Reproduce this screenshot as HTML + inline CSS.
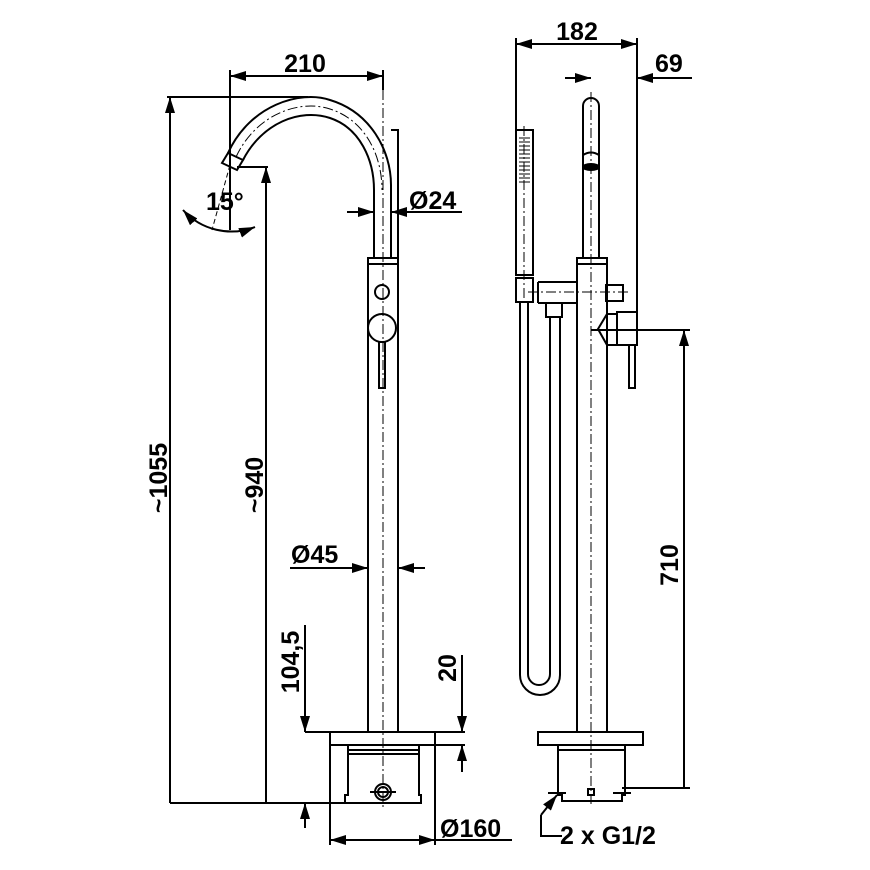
<!DOCTYPE html>
<html><head><style>
html,body{margin:0;padding:0;background:#fff}
svg{display:block}
text{font-family:"Liberation Sans",Arial,sans-serif;font-weight:bold;font-size:25px;fill:#000}
</style></head><body>
<svg width="870" height="870" viewBox="0 0 870 870" xmlns="http://www.w3.org/2000/svg">
<defs>
<marker id="a" viewBox="0 0 16 10" refX="16" refY="5" markerWidth="16" markerHeight="10" markerUnits="userSpaceOnUse" orient="auto-start-reverse">
<path d="M0,0 L16,5 L0,10 Z" fill="#000"/></marker>
</defs>
<g fill="none" stroke="#000" stroke-width="2">
<path d="M228,153 C250,105 300,90 330,100 C370,112 391,150 391,185 L391,257"/>
<path d="M243,160 C262,123 300,108 330,118 C360,128 374,160 374,190 L374,257"/>
<path d="M391,130 L398,130 L398,257"/>
<path d="M228,153 L243,160 L237,170 L222,163 Z"/>
<path d="M236,157 C256,114 300,99 330,109 C365,120 382,155 382,190" stroke-dasharray="10,3,2,3" stroke-width="1"/>
<rect x="368" y="258" width="30" height="474"/>
<line x1="368" y1="264" x2="398" y2="264"/>
<circle cx="382" cy="292" r="7"/>
<circle cx="382" cy="328" r="14"/>
<rect x="379" y="342" width="6" height="46"/>
<line x1="383" y1="90" x2="383" y2="810" stroke-dasharray="10,3,2,3" stroke-width="1"/>
<rect x="330" y="732" width="105" height="13"/>
<path d="M348,745 L348,795 L345,795 L345,803 L421,803 L421,795 L419,795 L419,745"/>
<line x1="348" y1="750" x2="419" y2="750"/>
<line x1="348" y1="754" x2="419" y2="754"/>
<circle cx="383" cy="792" r="8"/><circle cx="383" cy="792" r="5"/>
<line x1="370" y1="792" x2="396" y2="792"/>
<line x1="230" y1="76" x2="383" y2="76" marker-start="url(#a)" marker-end="url(#a)"/>
<line x1="230" y1="70" x2="230" y2="230"/>
<line x1="383" y1="70" x2="383" y2="90"/>
<line x1="167" y1="97" x2="308" y2="97"/>
<line x1="170" y1="803" x2="170" y2="97" marker-end="url(#a)"/>
<line x1="237" y1="167" x2="268" y2="167"/>
<line x1="266" y1="803" x2="266" y2="167" marker-end="url(#a)"/>
<line x1="170" y1="803" x2="345" y2="803"/>
<line x1="230" y1="165" x2="212" y2="230" stroke-dasharray="5,3" stroke-width="1"/>
<path d="M183,210 A65,65 0 0 0 255,227" marker-start="url(#a)" marker-end="url(#a)"/>
<line x1="347" y1="212" x2="374" y2="212" marker-end="url(#a)"/>
<line x1="462" y1="212" x2="391" y2="212" marker-end="url(#a)"/>
<line x1="290" y1="568" x2="368" y2="568" marker-end="url(#a)"/>
<line x1="425" y1="568" x2="398" y2="568" marker-end="url(#a)"/>
<line x1="305" y1="625" x2="305" y2="732" marker-end="url(#a)"/>
<line x1="305" y1="828" x2="305" y2="803" marker-end="url(#a)"/>
<line x1="305" y1="732" x2="330" y2="732"/>
<line x1="462" y1="655" x2="462" y2="732" marker-end="url(#a)"/>
<line x1="462" y1="772" x2="462" y2="745" marker-end="url(#a)"/>
<line x1="435" y1="732" x2="465" y2="732"/>
<line x1="435" y1="745" x2="465" y2="745"/>
<line x1="330" y1="745" x2="330" y2="845"/>
<line x1="435" y1="745" x2="435" y2="845"/>
<line x1="330" y1="840" x2="435" y2="840" marker-start="url(#a)" marker-end="url(#a)"/>
<line x1="435" y1="840" x2="512" y2="840"/>

<path d="M583,257 L583,106 A8,8 0 0 1 599,106 L599,257"/>
<path d="M583,155 Q591,150 599,155"/>
<ellipse cx="591" cy="167" rx="8" ry="3" fill="#000"/>
<rect x="577" y="258" width="30" height="474"/>
<line x1="577" y1="264" x2="607" y2="264"/>
<line x1="591" y1="92" x2="591" y2="805" stroke-dasharray="10,3,2,3" stroke-width="1"/>
<rect x="516" y="130" width="17" height="145"/>
<g stroke-width="1"><path d="M519,138h11M519,142h11M519,146h11M519,150h11M519,154h11M519,158h11M519,162h11M519,166h11M519,170h11M519,174h11M519,178h11M519,182h11"/></g>
<line x1="524" y1="126" x2="524" y2="300" stroke-dasharray="10,3,2,3" stroke-width="1"/>
<path d="M516,278 L533,278 L533,302 L516,302 Z"/>
<path d="M538,282 L577,282 M538,303 L577,303 M538,282 L538,303"/>
<rect x="606" y="285" width="17" height="16"/>
<line x1="528" y1="292" x2="628" y2="292" stroke-dasharray="10,3,2,3" stroke-width="1"/>
<rect x="546" y="303" width="16" height="14"/>
<path d="M520,302 L520,675 A20,20 0 0 0 560,675 L560,317"/>
<path d="M528,302 L528,674 A11,11 0 0 0 550,674 L550,317"/>
<path d="M607,314 L598,329 L607,345"/>
<rect x="607" y="314" width="10" height="31"/>
<rect x="617" y="312" width="20" height="33"/>
<rect x="629" y="345" width="6" height="43"/>
<rect x="538" y="732" width="105" height="13"/>
<path d="M558,745 L558,795 L562,795 L562,801 L622,801 L622,795 L625,795 L625,745"/>
<line x1="558" y1="750" x2="625" y2="750"/>
<rect x="588" y="789" width="6" height="6"/>
<path d="M548,793h18M613,793h18"/>
<line x1="516" y1="44" x2="637" y2="44" marker-start="url(#a)" marker-end="url(#a)"/>
<line x1="516" y1="38" x2="516" y2="130"/>
<line x1="637" y1="38" x2="637" y2="312"/>
<line x1="565" y1="78" x2="591" y2="78" marker-end="url(#a)"/>
<line x1="692" y1="78" x2="637" y2="78" marker-end="url(#a)"/>
<line x1="591" y1="330" x2="690" y2="330"/>
<line x1="684" y1="788" x2="684" y2="330" marker-end="url(#a)"/>
<line x1="622" y1="788" x2="690" y2="788"/>
<path d="M562,836 L541,836 L541,815" />
<line x1="541" y1="815" x2="557" y2="795" marker-end="url(#a)"/>
</g>
<text x="305" y="72" text-anchor="middle">210</text>
<text x="206" y="210">15°</text>
<text x="409" y="209">Ø24</text>
<text x="291" y="563">Ø45</text>
<text x="440" y="837">Ø160</text>
<text x="577" y="40" text-anchor="middle">182</text>
<text x="655" y="72">69</text>
<text x="560" y="844">2 x G1/2</text>
<text transform="translate(167,478) rotate(-90)" text-anchor="middle">~1055</text>
<text transform="translate(263,485) rotate(-90)" text-anchor="middle">~940</text>
<text transform="translate(299,662) rotate(-90)" text-anchor="middle">104,5</text>
<text transform="translate(456,668) rotate(-90)" text-anchor="middle">20</text>
<text transform="translate(678,565) rotate(-90)" text-anchor="middle">710</text>
</svg>
</body></html>
